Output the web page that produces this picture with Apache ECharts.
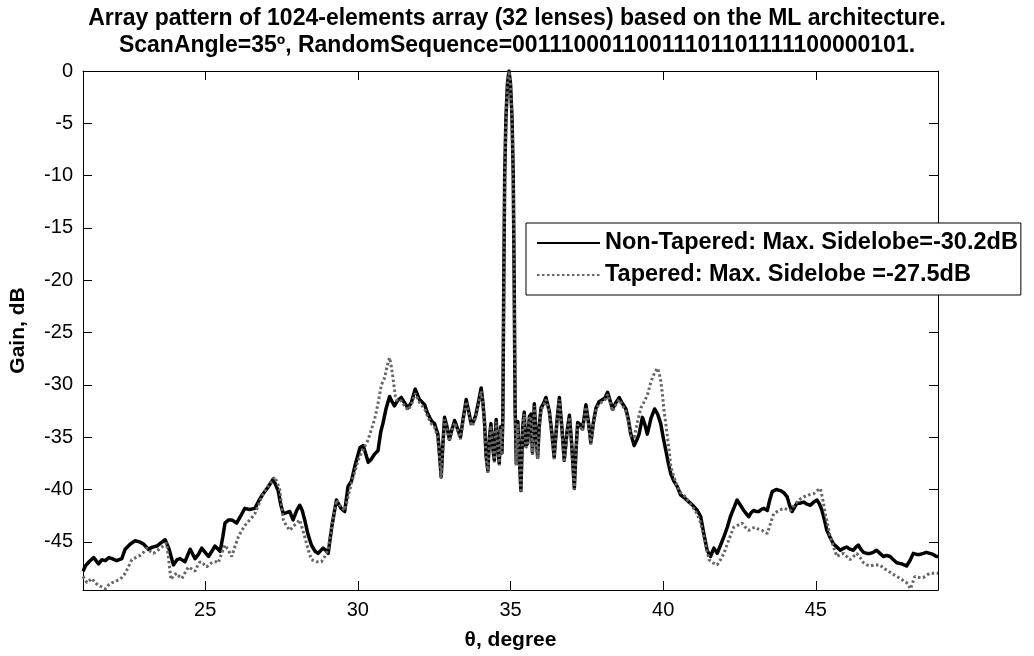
<!DOCTYPE html>
<html><head><meta charset="utf-8">
<script src="https://cdn.jsdelivr.net/npm/echarts@6/dist/echarts.min.js"></script>
<style>html,body{margin:0;padding:0;background:#fff}#c{width:1034px;height:656px}</style>
</head><body><div id="c"></div><script>
const titleLines = ["Array pattern of 1024-elements array (32 lenses) based on the ML architecture.",
  "ScanAngle=35\u00BA, RandomSequence=00111000110011101101111100000101."];
const seriesNames = ["Non-Tapered: Max. Sidelobe=-30.2dB", "Tapered: Max. Sidelobe =-27.5dB"];
const xTicks = [25, 30, 35, 40, 45];
const yTicks = [0, -5, -10, -15, -20, -25, -30, -35, -40, -45];

const nonTapered = [[21.0,-47.8],[21.08,-47.3],[21.2,-46.9],[21.35,-46.5],[21.51,-47.1],[21.62,-46.7],[21.73,-46.8],[21.85,-46.5],[21.95,-46.6],[22.1,-46.8],[22.27,-46.6],[22.38,-45.7],[22.55,-45.2],[22.71,-44.9],[22.85,-45.0],[22.98,-45.2],[23.14,-45.7],[23.28,-45.5],[23.42,-45.4],[23.55,-45.1],[23.69,-44.8],[23.82,-45.7],[23.96,-47.2],[24.08,-46.7],[24.18,-46.6],[24.34,-46.9],[24.51,-45.7],[24.67,-46.6],[24.78,-46.2],[24.89,-45.6],[25.0,-46.0],[25.11,-46.4],[25.22,-45.9],[25.32,-45.4],[25.49,-45.9],[25.58,-44.5],[25.65,-43.2],[25.77,-42.9],[25.87,-42.9],[26.03,-43.2],[26.15,-42.6],[26.3,-41.8],[26.45,-41.9],[26.63,-41.8],[26.77,-41.0],[26.9,-40.4],[27.05,-39.8],[27.23,-39.0],[27.39,-40.1],[27.48,-41.5],[27.56,-42.3],[27.67,-42.2],[27.77,-42.1],[27.88,-42.9],[28.0,-42.0],[28.1,-41.5],[28.18,-42.0],[28.26,-42.9],[28.37,-44.3],[28.48,-45.3],[28.6,-45.9],[28.7,-46.1],[28.86,-45.6],[28.95,-45.8],[29.03,-46.1],[29.15,-43.5],[29.3,-41.0],[29.45,-41.8],[29.57,-42.1],[29.68,-39.7],[29.79,-39.2],[29.9,-37.8],[30.07,-36.0],[30.17,-35.8],[30.25,-36.5],[30.34,-37.4],[30.44,-37.1],[30.55,-36.6],[30.66,-36.3],[30.75,-34.5],[30.82,-33.7],[30.93,-32.2],[31.04,-31.1],[31.12,-31.6],[31.2,-32.0],[31.3,-31.5],[31.42,-31.2],[31.53,-31.7],[31.64,-32.2],[31.75,-31.7],[31.88,-30.4],[32.02,-31.4],[32.19,-31.9],[32.27,-32.6],[32.35,-33.1],[32.43,-33.5],[32.51,-33.7],[32.62,-34.7],[32.68,-36.8],[32.73,-38.8],[32.78,-36.0],[32.84,-33.1],[32.92,-34.0],[33.0,-35.2],[33.08,-34.3],[33.17,-33.4],[33.27,-34.2],[33.36,-35.0],[33.45,-33.2],[33.55,-31.4],[33.63,-32.5],[33.71,-33.7],[33.79,-33.5],[33.87,-32.8],[33.96,-31.5],[34.04,-30.3],[34.1,-31.8],[34.15,-33.6],[34.2,-36.8],[34.26,-38.2],[34.31,-35.0],[34.36,-33.7],[34.42,-36.0],[34.47,-37.2],[34.5,-35.0],[34.53,-33.3],[34.58,-35.8],[34.63,-37.5],[34.68,-34.0],[34.72,-36.5],[34.75,-33.0],[34.78,-20.0],[34.81,-10.0],[34.85,-4.5],[34.9,-1.2],[34.95,0.0],[35.0,-1.2],[35.05,-4.5],[35.09,-10.0],[35.12,-20.0],[35.15,-32.0],[35.19,-37.5],[35.24,-33.5],[35.29,-37.0],[35.34,-40.1],[35.4,-34.0],[35.45,-32.6],[35.5,-35.8],[35.56,-35.6],[35.62,-33.0],[35.67,-32.8],[35.72,-36.5],[35.78,-31.8],[35.84,-35.0],[35.89,-36.9],[35.94,-34.0],[36.0,-32.2],[36.08,-31.8],[36.16,-31.2],[36.27,-32.5],[36.35,-34.5],[36.43,-36.9],[36.52,-33.5],[36.6,-31.2],[36.68,-34.0],[36.76,-37.2],[36.85,-34.5],[36.93,-32.9],[37.0,-35.5],[37.09,-39.9],[37.15,-36.0],[37.2,-33.6],[37.28,-33.8],[37.36,-34.2],[37.47,-31.9],[37.55,-33.5],[37.63,-35.5],[37.72,-33.5],[37.8,-32.2],[37.9,-31.6],[38.02,-31.4],[38.1,-31.2],[38.18,-30.7],[38.26,-31.5],[38.34,-32.3],[38.45,-31.7],[38.56,-31.2],[38.67,-31.8],[38.78,-32.3],[38.86,-33.3],[38.94,-34.7],[39.05,-35.8],[39.13,-35.3],[39.21,-34.7],[39.32,-33.1],[39.4,-33.8],[39.48,-34.7],[39.6,-33.2],[39.72,-32.3],[39.82,-32.8],[39.92,-33.7],[40.0,-35.0],[40.09,-36.3],[40.17,-37.5],[40.25,-38.5],[40.35,-39.2],[40.46,-39.7],[40.57,-40.5],[40.7,-40.8],[40.85,-41.2],[41.0,-41.6],[41.12,-42.0],[41.23,-42.6],[41.33,-44.2],[41.44,-45.8],[41.55,-46.4],[41.66,-45.6],[41.77,-46.1],[41.88,-45.3],[41.99,-44.5],[42.1,-43.6],[42.2,-42.6],[42.31,-41.8],[42.42,-41.0],[42.53,-41.5],[42.64,-42.0],[42.72,-42.3],[42.8,-42.6],[42.88,-42.2],[42.97,-42.0],[43.05,-42.1],[43.13,-42.1],[43.22,-41.9],[43.3,-41.8],[43.41,-42.0],[43.49,-41.0],[43.57,-40.2],[43.7,-40.0],[43.84,-40.1],[43.95,-40.3],[44.06,-40.7],[44.14,-41.5],[44.22,-42.1],[44.3,-41.7],[44.38,-41.3],[44.49,-41.3],[44.6,-41.2],[44.71,-41.4],[44.82,-41.5],[44.93,-41.2],[45.04,-41.0],[45.12,-41.4],[45.2,-42.0],[45.28,-42.9],[45.36,-43.9],[45.47,-44.6],[45.58,-45.2],[45.69,-45.5],[45.8,-45.8],[45.91,-45.6],[46.01,-45.5],[46.12,-45.7],[46.23,-45.8],[46.31,-45.5],[46.39,-45.3],[46.47,-45.7],[46.56,-46.0],[46.67,-46.1],[46.78,-46.1],[46.88,-46.0],[46.99,-45.8],[47.1,-46.1],[47.21,-46.4],[47.32,-46.3],[47.43,-46.4],[47.54,-46.7],[47.65,-47.0],[47.81,-47.1],[47.97,-47.3],[48.08,-46.8],[48.19,-46.1],[48.3,-46.2],[48.41,-46.2],[48.52,-46.1],[48.62,-46.0],[48.73,-46.1],[48.84,-46.2],[48.95,-46.4],[49.0,-46.4]];

const tapered = [[21.0,-48.3],[21.13,-48.9],[21.29,-48.5],[21.4,-48.9],[21.51,-49.2],[21.62,-49.3],[21.73,-49.5],[21.84,-49.1],[21.95,-48.9],[22.06,-48.8],[22.17,-48.6],[22.28,-48.4],[22.38,-48.0],[22.5,-47.3],[22.6,-46.7],[22.73,-46.5],[22.87,-46.3],[22.98,-46.0],[23.09,-45.6],[23.2,-45.9],[23.31,-46.1],[23.45,-45.8],[23.58,-45.5],[23.66,-45.3],[23.74,-45.1],[23.81,-46.8],[23.88,-48.6],[23.97,-48.2],[24.07,-48.0],[24.15,-48.3],[24.24,-48.5],[24.35,-47.9],[24.45,-47.4],[24.56,-47.6],[24.67,-47.8],[24.75,-47.3],[24.83,-46.9],[24.94,-47.1],[25.05,-47.4],[25.16,-47.1],[25.27,-46.9],[25.35,-46.9],[25.43,-47.0],[25.54,-46.1],[25.65,-45.3],[25.76,-45.8],[25.87,-46.4],[25.98,-45.4],[26.09,-44.5],[26.22,-43.8],[26.36,-43.2],[26.5,-42.8],[26.63,-42.3],[26.77,-41.3],[26.9,-40.4],[27.1,-39.5],[27.28,-38.8],[27.37,-39.4],[27.45,-40.1],[27.5,-41.5],[27.56,-42.9],[27.67,-43.5],[27.77,-43.9],[27.93,-43.4],[28.1,-42.9],[28.18,-43.7],[28.26,-44.5],[28.37,-45.7],[28.48,-46.7],[28.65,-46.9],[28.81,-46.9],[28.92,-46.4],[29.03,-45.7],[29.16,-43.3],[29.3,-41.0],[29.44,-41.6],[29.57,-42.0],[29.68,-40.7],[29.79,-39.4],[29.9,-38.3],[30.01,-37.2],[30.17,-36.2],[30.33,-35.3],[30.44,-34.3],[30.55,-33.3],[30.66,-31.8],[30.77,-30.0],[30.88,-29.3],[30.96,-28.2],[31.04,-27.4],[31.1,-28.3],[31.15,-29.3],[31.23,-31.1],[31.3,-31.6],[31.42,-31.5],[31.53,-32.0],[31.64,-32.4],[31.75,-31.9],[31.88,-30.8],[32.02,-31.7],[32.19,-32.3],[32.27,-32.9],[32.35,-33.4],[32.43,-33.8],[32.51,-34.0],[32.62,-35.0],[32.68,-37.0],[32.73,-38.9],[32.78,-36.2],[32.84,-33.3],[32.92,-34.2],[33.0,-35.4],[33.08,-34.5],[33.17,-33.6],[33.27,-34.4],[33.36,-35.2],[33.45,-33.4],[33.55,-31.6],[33.63,-32.7],[33.71,-33.9],[33.79,-33.7],[33.87,-33.0],[33.96,-31.8],[34.04,-30.6],[34.1,-32.0],[34.15,-33.8],[34.2,-37.0],[34.26,-38.4],[34.31,-35.2],[34.36,-33.9],[34.42,-36.2],[34.47,-37.4],[34.5,-35.2],[34.53,-33.5],[34.58,-36.0],[34.63,-37.7],[34.68,-34.2],[34.72,-36.7],[34.75,-33.2],[34.78,-20.2],[34.81,-10.2],[34.85,-4.6],[34.9,-1.3],[34.95,0.0],[35.0,-1.3],[35.05,-4.6],[35.09,-10.2],[35.12,-20.2],[35.15,-32.2],[35.19,-37.7],[35.24,-33.7],[35.29,-37.2],[35.34,-40.3],[35.4,-34.2],[35.45,-32.8],[35.5,-36.0],[35.56,-35.8],[35.62,-33.2],[35.67,-33.0],[35.72,-36.7],[35.78,-32.0],[35.84,-35.2],[35.89,-37.1],[35.94,-34.2],[36.0,-32.4],[36.08,-32.0],[36.16,-31.4],[36.27,-32.7],[36.35,-34.7],[36.43,-37.1],[36.52,-33.7],[36.6,-31.4],[36.68,-34.2],[36.76,-37.4],[36.85,-34.7],[36.93,-33.1],[37.0,-35.7],[37.09,-40.0],[37.15,-36.2],[37.2,-33.8],[37.28,-34.0],[37.36,-34.4],[37.47,-32.1],[37.55,-33.7],[37.63,-35.7],[37.72,-33.7],[37.8,-32.4],[37.9,-31.8],[38.02,-31.6],[38.1,-31.4],[38.18,-30.9],[38.26,-31.7],[38.34,-32.5],[38.45,-31.9],[38.56,-31.4],[38.67,-32.0],[38.78,-32.5],[38.86,-33.5],[38.94,-34.9],[39.05,-35.0],[39.16,-33.5],[39.27,-32.2],[39.38,-31.6],[39.48,-31.0],[39.57,-30.0],[39.65,-29.3],[39.73,-28.8],[39.81,-28.4],[39.87,-28.9],[39.92,-29.6],[39.98,-31.0],[40.03,-32.5],[40.09,-33.8],[40.14,-35.0],[40.2,-36.4],[40.25,-37.8],[40.35,-38.8],[40.46,-39.7],[40.57,-40.3],[40.7,-40.6],[40.85,-41.2],[41.0,-41.8],[41.12,-42.4],[41.23,-43.2],[41.37,-45.0],[41.5,-46.7],[41.63,-47.0],[41.77,-47.2],[41.88,-46.7],[41.99,-46.1],[42.15,-44.8],[42.31,-43.6],[42.45,-43.4],[42.58,-43.2],[42.69,-43.6],[42.8,-43.9],[42.91,-43.7],[43.02,-43.6],[43.13,-43.8],[43.24,-43.9],[43.33,-44.1],[43.41,-44.2],[43.52,-43.2],[43.62,-42.3],[43.79,-42.0],[43.95,-41.8],[44.06,-41.9],[44.17,-42.0],[44.27,-41.6],[44.38,-41.2],[44.49,-40.9],[44.6,-40.7],[44.77,-40.5],[44.93,-40.4],[45.04,-40.1],[45.15,-39.9],[45.23,-41.0],[45.31,-42.3],[45.39,-43.4],[45.47,-44.5],[45.58,-45.5],[45.69,-46.4],[45.8,-46.2],[45.91,-46.1],[46.01,-46.4],[46.12,-46.7],[46.23,-46.4],[46.34,-46.1],[46.45,-46.5],[46.56,-47.0],[46.67,-47.2],[46.78,-47.3],[46.94,-47.2],[47.1,-47.2],[47.21,-47.5],[47.32,-47.7],[47.48,-48.0],[47.65,-48.3],[47.81,-48.6],[47.97,-48.9],[48.04,-49.2],[48.1,-49.5],[48.17,-48.9],[48.24,-48.3],[48.38,-48.4],[48.52,-48.4],[48.62,-48.2],[48.73,-48.0],[48.84,-48.0],[48.95,-48.0],[49.0,-48.0]];

const FONT = "'Liberation Sans', Arial, Helvetica, sans-serif";
const chart = echarts.init(document.getElementById('c'), null, {renderer: 'canvas'});
const axisLine = {show: true, onZero: false, lineStyle: {color: '#000', width: 1}};
const tickStyle = {color: '#000', width: 1};
chart.setOption({
  backgroundColor: '#fff',
  animation: false,
  title: {
    text: titleLines.join('\n'), left: 'center', top: 0,
    textStyle: {fontFamily: FONT, fontWeight: 'bold', fontSize: 23, lineHeight: 27, color: '#000'}
  },
  grid: {left: 81, right: 96, top: 71, bottom: 62, containLabel: false},
  xAxis: [{
    type: 'value', min: 21, max: 49, position: 'bottom',
    axisLine: axisLine,
    axisTick: {show: true, inside: true, length: 9, customValues: xTicks, lineStyle: tickStyle},
    axisLabel: {show: true, customValues: xTicks, margin: 10, color: '#000', fontFamily: FONT, fontSize: 20},
    splitLine: {show: false},
    name: 'θ, degree', nameLocation: 'middle', nameGap: 40,
    nameTextStyle: {fontFamily: FONT, fontWeight: 'bold', fontSize: 21, color: '#000'}
  }, {
    type: 'value', min: 21, max: 49, position: 'top',
    axisLine: axisLine,
    axisTick: {show: true, inside: true, length: 9, customValues: xTicks, lineStyle: tickStyle},
    axisLabel: {show: false}, splitLine: {show: false}
  }],
  yAxis: [{
    type: 'value', min: -49.6, max: 0, position: 'left',
    axisLine: axisLine,
    axisTick: {show: true, inside: true, length: 9, customValues: yTicks, lineStyle: tickStyle},
    axisLabel: {show: true, customValues: yTicks, margin: 10, color: '#000', fontFamily: FONT, fontSize: 20},
    splitLine: {show: false},
    name: 'Gain, dB', nameLocation: 'middle', nameGap: 54, nameRotate: 90,
    nameTextStyle: {fontFamily: FONT, fontWeight: 'bold', fontSize: 21, color: '#000'}
  }, {
    type: 'value', min: -49.6, max: 0, position: 'right',
    axisLine: axisLine,
    axisTick: {show: true, inside: true, length: 9, customValues: yTicks, lineStyle: tickStyle},
    axisLabel: {show: false}, splitLine: {show: false}
  }],
  legend: {
    orient: 'vertical', left: 526, top: 223,
    itemWidth: 63, itemHeight: 14, itemGap: 8,
    padding: [8, 3, 8, 10],
    backgroundColor: '#fff', borderColor: '#000', borderWidth: 1, borderRadius: 0,
    itemStyle: {opacity: 0},
    textStyle: {fontFamily: FONT, fontWeight: 'bold', fontSize: 23.5, color: '#000'},
    data: seriesNames
  },
  series: [{
    name: seriesNames[0], type: 'line', data: nonTapered,
    xAxisIndex: 0, yAxisIndex: 0, color: '#000',
    symbol: 'none', showSymbol: false, clip: true, z: 2,
    lineStyle: {color: '#000', width: 3.5, join: 'round'}
  }, {
    name: seriesNames[1], type: 'line', data: tapered,
    xAxisIndex: 0, yAxisIndex: 0, color: '#666',
    symbol: 'none', showSymbol: false, clip: true, z: 3,
    lineStyle: {color: '#666', width: 3, type: [2.5, 2.5]}
  }]
});
</script></body></html>
